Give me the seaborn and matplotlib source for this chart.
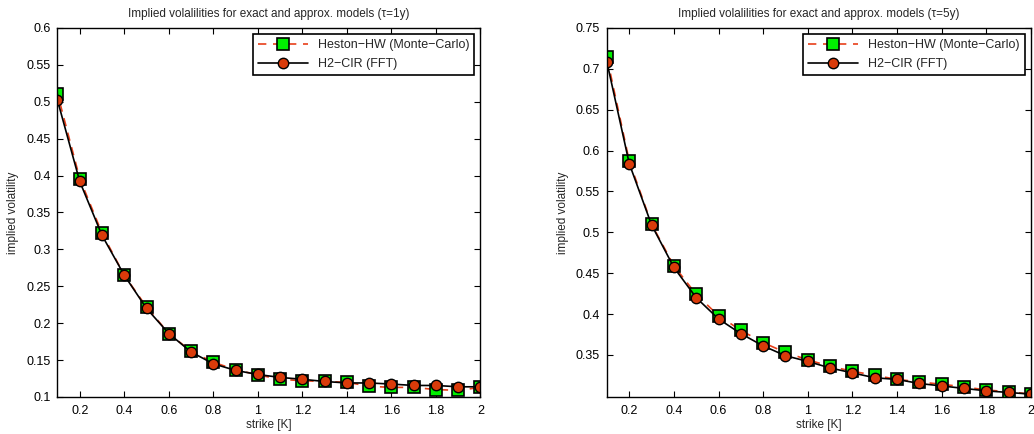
import numpy as np
import pandas as pd
import matplotlib
matplotlib.use("Agg")
import matplotlib.pyplot as plt
import seaborn as sns

# strikes (first one lies just left of the visible axis range, clipped)
strikes = [0.05, 0.1, 0.2, 0.3, 0.4, 0.5, 0.6, 0.7, 0.8, 0.9, 1.0,
           1.1, 1.2, 1.3, 1.4, 1.5, 1.6, 1.7, 1.8, 1.9, 2.0]

# tau = 1y
heston_1y = [1.00, 0.511, 0.396, 0.322, 0.265, 0.222, 0.186, 0.162, 0.147, 0.137, 0.130,
             0.124, 0.122, 0.121, 0.120, 0.1145, 0.113, 0.113, 0.110, 0.109, 0.113]
h2cir_1y = [0.95, 0.502, 0.392, 0.319, 0.265, 0.220, 0.186, 0.161, 0.145, 0.136, 0.1305,
            0.1265, 0.124, 0.121, 0.119, 0.119, 0.1175, 0.1156, 0.1156, 0.1138, 0.1138]

# tau = 5y
heston_5y = [1.10, 0.714, 0.587, 0.510, 0.459, 0.424, 0.398, 0.380, 0.365, 0.353, 0.344,
             0.336, 0.330, 0.325, 0.320, 0.317, 0.314, 0.311, 0.307, 0.305, 0.302]
h2cir_5y = [1.05, 0.708, 0.584, 0.509, 0.457, 0.420, 0.394, 0.376, 0.361, 0.349, 0.342,
            0.334, 0.328, 0.322, 0.320, 0.315, 0.312, 0.309, 0.306, 0.304, 0.302]

titles = ["Implied volalilities for exact and approx. models (\u03c4=1y)",
          "Implied volalilities for exact and approx. models (\u03c4=5y)"]
xticks = [0.2, 0.4, 0.6, 0.8, 1.0, 1.2, 1.4, 1.6, 1.8, 2.0]
xticklabels = ["0.2", "0.4", "0.6", "0.8", "1", "1.2", "1.4", "1.6", "1.8", "2"]
yticks_1y = [0.1, 0.15, 0.2, 0.25, 0.3, 0.35, 0.4, 0.45, 0.5, 0.55, 0.6]
yticks_5y = [0.35, 0.4, 0.45, 0.5, 0.55, 0.6, 0.65, 0.7, 0.75]

sns.set_style("white")
plt.rcParams['font.family'] = ['Liberation Sans', 'DejaVu Sans']

fig = plt.figure(figsize=(10.34, 4.34), dpi=100)
ax1 = fig.add_axes([0.0556, 0.0853, 0.4090, 0.8503])
ax2 = fig.add_axes([0.5870, 0.0853, 0.4100, 0.8503])

RED = "#E8401A"
CIRC = "#D93B0A"
GREEN = "#00F000"

panels = [(ax1, heston_1y, h2cir_1y, titles[0], yticks_1y, (0.1, 0.6)),
          (ax2, heston_5y, h2cir_5y, titles[1], yticks_5y, (0.2985, 0.75))]

for ax, hes, h2, title, yt, yl in panels:
    df = pd.DataFrame({"K": strikes, "heston": hes, "h2": h2})
    sns.lineplot(data=df, x="K", y="heston", ax=ax, color=RED, lw=1.2,
                 linestyle=(0, (5, 4)), marker="s", markersize=8,
                 markerfacecolor=GREEN, markeredgecolor="black", markeredgewidth=1.2,
                 label="Heston\u2212HW (Monte\u2212Carlo)")
    sns.lineplot(data=df, x="K", y="h2", ax=ax, color="black", lw=1.2,
                 marker="o", markersize=7.5,
                 markerfacecolor=CIRC, markeredgecolor="black", markeredgewidth=1.0,
                 label="H2\u2212CIR (FFT)")
    ax.set_xlim(0.1, 2.0)
    ax.set_ylim(*yl)
    ax.set_xticks(xticks)
    ax.set_xticklabels(xticklabels)
    ax.set_yticks(yt)
    ax.set_yticklabels([f"{v:g}" for v in yt])
    ax.tick_params(direction="in", length=4, width=0.8, top=True, right=True,
                   bottom=True, left=True, labelsize=9, colors="black", pad=5)
    ax.tick_params(axis="x", pad=6)
    for s in ax.spines.values():
        s.set_visible(True)
        s.set_color("black")
        s.set_linewidth(1.0)
    ax.set_xlabel("strike [K]", fontsize=8.5, labelpad=1)
    ax.set_ylabel("implied volatility", fontsize=8.5, labelpad=5)
    ax.set_title(title, fontsize=8.5, pad=8)
    leg = ax.legend(loc="upper right", fontsize=9, frameon=True, fancybox=False,
                    edgecolor="black", framealpha=1, borderpad=0.4,
                    handlelength=4.0, labelspacing=0.55, borderaxespad=0.5)
    leg.get_frame().set_linewidth(1.2)

fig.savefig("out.png", dpi=100)
